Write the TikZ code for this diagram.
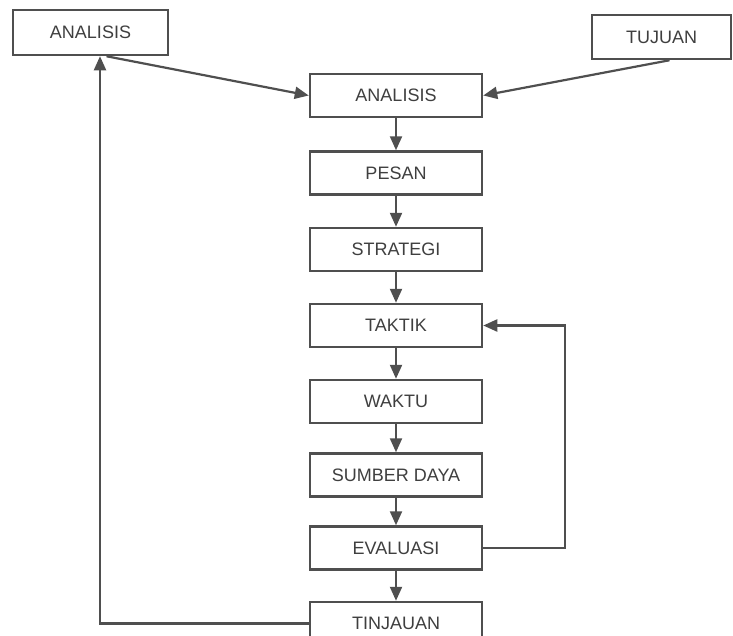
\documentclass[tikz,border=0pt]{standalone}
\usepackage{fontspec}
\setmainfont{Liberation Sans}
\usetikzlibrary{arrows.meta}
\definecolor{linegray}{HTML}{4F4F4F}
\definecolor{textgray}{HTML}{3F3F3F}

\begin{document}
\begin{tikzpicture}[x=1pt,y=-1pt,
    box/.style={draw=linegray, line width=2.5pt, fill=white, minimum width=172pt,
        minimum height=43pt, inner sep=0pt, text=textgray,
        font=\fontsize{18}{20}\selectfont},
    arr/.style={draw=linegray, line width=2.2pt, -{Triangle[length=14pt,width=12pt]}}]

        \useasboundingbox (0,0) rectangle (733,635);

        % Side boxes
        \node[box, minimum width=155pt, minimum height=45pt] (anleft) at (90.5,32.5) {ANALISIS};
        \node[box, minimum width=139pt, minimum height=44pt] (tujuan) at (661.5,37) {TUJUAN};

        % Main column
        \foreach \name/\txt/\y in {analisis/ANALISIS/95.5, pesan/PESAN/173,
            strategi/STRATEGI/249.5, taktik/TAKTIK/325.5, waktu/WAKTU/401.5,
            sumber/SUMBER DAYA/475, evaluasi/EVALUASI/548, tinjauan/TINJAUAN/623.5}
        {
            \node[box] (\name) at (396,\y) {\txt};
        }

        % Down arrows
        \foreach \a/\b in {analisis/pesan, pesan/strategi, strategi/taktik,
            taktik/waktu, waktu/sumber, sumber/evaluasi, evaluasi/tinjauan}
        {
            \draw[arr] (\a.south) -- (\b.north);
        }

        % Inputs
        \draw[arr] ([xshift=16pt]anleft.south) -- (analisis.west);
        \draw[arr] ([xshift=8pt]tujuan.south) -- (analisis.east);

        % Feedback loops
        \coordinate (right) at (565,0);
        \coordinate (left) at (100,0);
        \draw[arr] (evaluasi.east) -- (evaluasi.east -| right) |- (taktik.east);
        \draw[arr] (tinjauan.west) -- (tinjauan.west -| left) -- (anleft.south -| left);

    \end{tikzpicture}
\end{document}
